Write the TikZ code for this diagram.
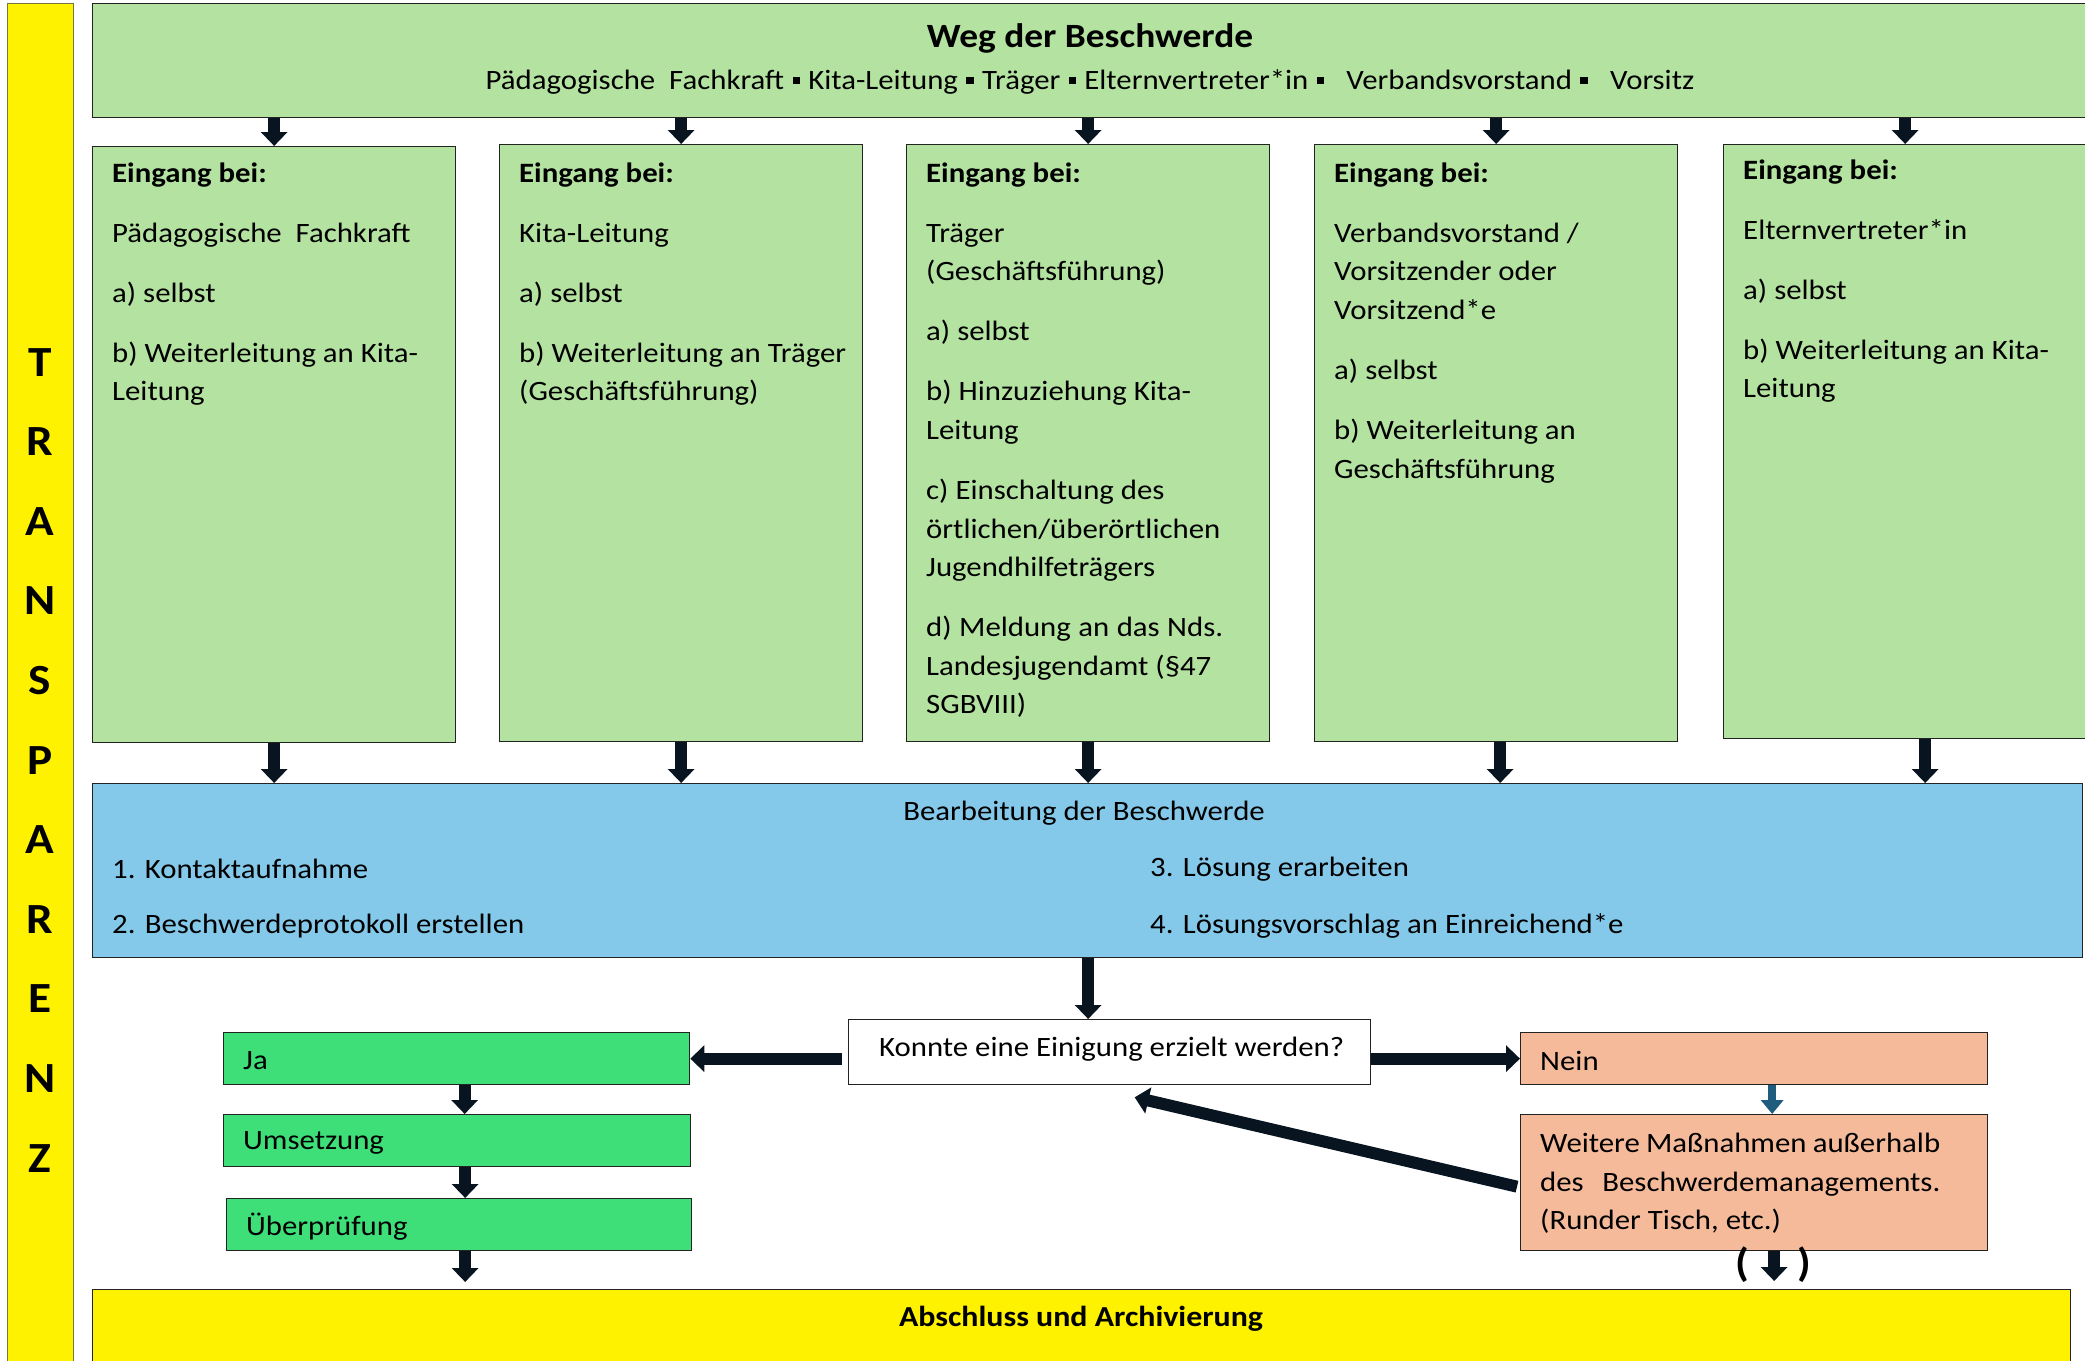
\documentclass[tikz,border=0pt]{standalone}
\usepackage{fontspec}
\setmainfont{Carlito}[FakeStretch=1.1]
\usetikzlibrary{arrows.meta}
\definecolor{lgreen}{RGB}{180,226,161}
\definecolor{lblue}{RGB}{132,201,234}
\definecolor{ygreen}{RGB}{62,223,120}
\definecolor{salmon}{RGB}{244,186,154}
\definecolor{arrowc}{RGB}{8,20,32}
\definecolor{tealc}{RGB}{31,92,125}
\definecolor{edgec}{RGB}{35,35,35}
\definecolor{baredge}{RGB}{120,120,60}
\newcommand{\sq}{\hspace{0.3em}\rule[0.2em]{0.26em}{0.26em}\hspace{0.3em}}
\begin{document}
\begin{tikzpicture}[x=1pt,y=-1pt,
  box/.style={draw=edgec, line width=1.3pt, anchor=north west, inner sep=0pt},
  txt/.style={anchor=north west, inner sep=0pt, align=left, font=\fontsize{28}{38.6}\selectfont},
  line/.style={anchor=west, inner sep=0pt, font=\fontsize{28}{34}\selectfont},
  arr/.style={draw=arrowc, line width=12pt, -{Triangle[width=26pt,length=14pt]}},
  tarr/.style={draw=tealc, line width=8pt, -{Triangle[width=22pt,length=14pt]}},
 ]
\useasboundingbox (0,0) rectangle (2085,1360);
\clip (0,0) rectangle (2085,1360);

% left bar
\node[box, draw=baredge, fill=yellow, minimum width=66pt, minimum height=1400pt] (bar) at (7,3) {};
\node[anchor=north, inner sep=0pt, align=center, font=\bfseries\fontsize{43}{79.6}\selectfont] (trans) at (40,348)
  {T\\R\\A\\N\\S\\P\\A\\R\\E\\N\\Z};

% header
\node[box, fill=lgreen, minimum width=2010pt, minimum height=114pt] (head) at (92,3) {};
\node[inner sep=0pt, font=\bfseries\fontsize{34}{40}\selectfont] (title) at (1090,38) {Weg der Beschwerde};
\node[inner sep=0pt, font=\fontsize{28}{34}\selectfont] (sub) at (1090,82)
  {Pädagogische\ \ Fachkraft\sq Kita-Leitung\sq Träger\sq Elternvertreter*in\sq\ \ Verbandsvorstand\sq\ \ Vorsitz};

% Eingang boxes
\node[box, fill=lgreen, minimum width=363pt, minimum height=596pt] (e1) at (92,146) {};
\node[box, fill=lgreen, minimum width=363pt, minimum height=597pt] (e2) at (499,144) {};
\node[box, fill=lgreen, minimum width=363pt, minimum height=597pt] (e3) at (906,144) {};
\node[box, fill=lgreen, minimum width=363pt, minimum height=597pt] (e4) at (1314,144) {};
\node[box, fill=lgreen, minimum width=363pt, minimum height=594pt] (e5) at (1723,144) {};

\node[txt] (t1) at (112,162.5) {\textbf{Eingang bei:}\\[21.4pt]
  Pädagogische\ \ Fachkraft\\[21.4pt]
  a) selbst\\[21.4pt]
  b) Weiterleitung an Kita-\\
  Leitung};
\node[txt] (t2) at (519,162.5) {\textbf{Eingang bei:}\\[21.4pt]
  Kita-Leitung\\[21.4pt]
  a) selbst\\[21.4pt]
  b) Weiterleitung an Träger\\
  (Geschäftsführung)};
\node[txt] (t3) at (926,162.5) {\textbf{Eingang bei:}\\[21.4pt]
  Träger\\
  (Geschäftsführung)\\[21.4pt]
  a) selbst\\[21.4pt]
  b) Hinzuziehung Kita-\\
  Leitung\\[21.4pt]
  c) Einschaltung des\\
  örtlichen/überörtlichen\\
  Jugendhilfeträgers\\[21.4pt]
  \makebox[297pt][s]{d) Meldung an das Nds.}\\
  Landesjugendamt (§47\\
  SGBVIII)};
\node[txt] (t4) at (1334,162.5) {\textbf{Eingang bei:}\\[21.4pt]
  Verbandsvorstand /\\
  Vorsitzender oder\\
  Vorsitzend*e\\[21.4pt]
  a) selbst\\[21.4pt]
  b) Weiterleitung an\\
  Geschäftsführung};
\node[txt] (t5) at (1743,159.5) {\textbf{Eingang bei:}\\[21.4pt]
  Elternvertreter*in\\[21.4pt]
  a) selbst\\[21.4pt]
  b) Weiterleitung an Kita-\\
  Leitung};

% blue box
\node[box, fill=lblue, minimum width=1990pt, minimum height=174pt] (blue) at (92,783) {};
\node[inner sep=0pt, font=\fontsize{28}{34}\selectfont] (bt) at (1084,813) {Bearbeitung der Beschwerde};
\node[line] (b1) at (112,869) {1. Kontaktaufnahme};
\node[line] (b2) at (112,926) {2. Beschwerdeprotokoll erstellen};
\node[line] (b3) at (1150,869) {3. Lösung erarbeiten};
\node[line] (b4) at (1150,926) {4. Lösungsvorschlag an Einreichend*e};

% arrows header -> boxes
\foreach \b in {e1,e2,e3,e4,e5}
  \draw[arr] (head.south -| \b.north) -- (\b.north);
% arrows boxes -> blue
\draw[arr] (e1.south) -- (e1.south |- blue.north);
\draw[arr] (e2.south) -- (e2.south |- blue.north);
\draw[arr] (e3.south) -- (e3.south |- blue.north);
\draw[arr] ([xshift=4pt]e4.south) -- ([xshift=4pt]e4.south |- blue.north);
\draw[arr] ([xshift=20pt]e5.south) -- ([xshift=20pt]e5.south |- blue.north);

% decision part
\node[box, fill=white, minimum width=522pt, minimum height=65pt] (q) at (848,1019) {};
\node[line] (qt) at (879,1049) {Konnte eine Einigung erzielt werden?};
\node[box, fill=ygreen, minimum width=466pt, minimum height=52pt] (ja) at (223,1032) {};
\node[line] (jat) at (243,1061) {Ja};
\node[box, fill=ygreen, minimum width=467pt, minimum height=52pt] (ums) at (223,1114) {};
\node[line] (umst) at (243,1143) {Umsetzung};
\node[box, fill=ygreen, minimum width=465pt, minimum height=52pt] (ueb) at (226,1198) {};
\node[line] (uebt) at (246,1227) {Überprüfung};
\node[box, fill=salmon, minimum width=467pt, minimum height=52pt] (nein) at (1520,1032) {};
\node[line] (neint) at (1540,1061) {Nein};
\node[box, fill=salmon, minimum width=467pt, minimum height=136pt] (weit) at (1520,1114) {};
\node[txt] (weitt) at (1540,1133) {\makebox[400pt][s]{Weitere Maßnahmen außerhalb}\\
  \makebox[400pt][s]{des Beschwerdemanagements.}\\
  (Runder Tisch, etc.)};
\node[box, draw=edgec, fill=yellow, minimum width=1978pt, minimum height=100pt] (absch) at (92,1289) {};
\node[inner sep=0pt, font=\bfseries\fontsize{29}{34}\selectfont] (abt) at (1081,1319) {Abschluss und Archivierung};

\draw[arr] (blue.south -| e3.south) -- (q.north -| e3.south);
\draw[arr] ([xshift=-6pt]q.west |- ja.east) -- (ja.east);
\draw[arr] (q.east |- nein.west) -- (nein.west);
\draw[arr] ([xshift=8pt]ja.south) -- ([xshift=8pt]ja.south |- ums.north);
\draw[arr] ([xshift=8pt]ums.south) -- ([xshift=8pt]ums.south |- ueb.north);
\draw[arr] ([xshift=6pt]ueb.south) -- ([xshift=6pt,yshift=7pt]ueb.south |- absch.north);
\draw[tarr] ([xshift=18pt]nein.south) -- ([xshift=18pt]weit.north);
\draw[arr] ([xshift=-3pt,yshift=-4pt]weit.west) -- ([xshift=25pt,yshift=-12pt]q.south);
\draw[arr] ([xshift=20pt]weit.south) -- ([xshift=20pt,yshift=8pt]weit.south |- absch.north);
\node[inner sep=0pt, font=\bfseries\fontsize{40}{46}\selectfont] (pl) at (1742,1265) {(};
\node[inner sep=0pt, font=\bfseries\fontsize{40}{46}\selectfont] (pr) at (1804,1265) {)};
\end{tikzpicture}
\end{document}
